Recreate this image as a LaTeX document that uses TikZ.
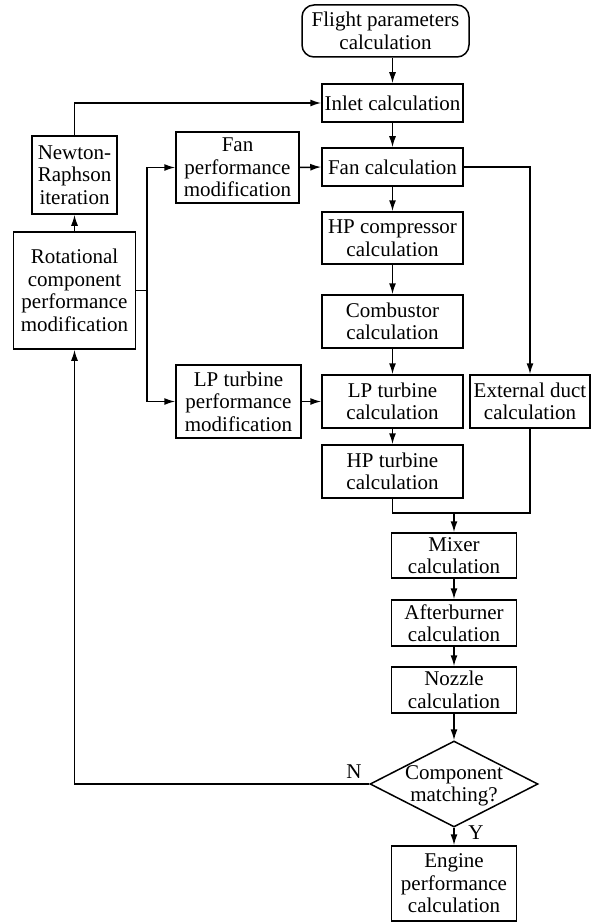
\documentclass[tikz,border=0pt]{standalone}
\usepackage{fontspec}
\setmainfont{Liberation Serif}
\usetikzlibrary{arrows.meta,shapes.geometric}
\begin{document}
\begin{tikzpicture}[x=1pt,y=-1pt,
  every node/.style={font=\fontsize{21}{22.5}\selectfont, align=center, inner sep=0pt},
  box/.style={draw, line width=1.5pt, rectangle},
  conn/.style={line width=1.5pt},
  arr/.style={conn, -{Latex[length=11pt,width=7pt]}},
  lbl/.style={font=\fontsize{21}{22.5}\selectfont}]
\useasboundingbox (0,0) rectangle (598,923);
\fill[white] (0,0) rectangle (598,923);
% main column
\node[box, rounded corners=12pt, minimum width=167, minimum height=52] (flight) at (385.5,31) {Flight parameters\\calculation};
\node[box, minimum width=141, minimum height=38] (inlet) at (392.5,103) {Inlet calculation};
\node[box, minimum width=141, minimum height=38] (fan) at (392.5,167) {Fan calculation};
\node[box, minimum width=141, minimum height=52] (hpc) at (392.5,238) {HP compressor\\calculation};
\node[box, minimum width=141, minimum height=53] (comb) at (392.5,321.5) {Combustor\\calculation};
\node[box, minimum width=141, minimum height=53] (lpt) at (392.5,401.5) {LP turbine\\calculation};
\node[box, minimum width=141, minimum height=53] (hpt) at (392.5,471.5) {HP turbine\\calculation};
\node[box, minimum width=120, minimum height=53] (ext) at (530,401.5) {External duct\\calculation};
% left column
\node[box, minimum width=85, minimum height=78] (newton) at (74.5,175) {Newton-\\Raphson\\iteration};
\node[box, minimum width=122, minimum height=117] (rot) at (74.5,290.5) {Rotational\\component\\performance\\modification};
\node[box, minimum width=123, minimum height=71] (fanmod) at (237.5,167.5) {Fan\\performance\\modification};
\node[box, minimum width=125, minimum height=73] (lpmod) at (238.5,401.5) {LP turbine\\performance\\modification};
% lower column
\node[box, minimum width=125, minimum height=45] (mixer) at (454,555.5) {Mixer\\calculation};
\node[box, minimum width=125, minimum height=46] (after) at (454,623) {Afterburner\\calculation};
\node[box, minimum width=125, minimum height=46] (nozzle) at (454,690) {Nozzle\\calculation};
\node[draw, line width=1.5pt, diamond, minimum width=168, minimum height=86] (dia) at (454,784) {};
\node (diatext) at (454,786) {Component\\matching?};
\node[box, minimum width=125, minimum height=75] (engine) at (454,883.5) {Engine\\performance\\calculation};
% labels
\node[lbl] (nlab) at (354,772) {N};
\node[lbl] (ylab) at (476,833) {Y};
% coordinates
\coordinate (split) at (147,290.5);
\coordinate (join) at (454,513);
% connectors
\draw[arr] (inlet.north |- flight.south) -- (inlet.north);
\draw[arr] (inlet) -- (fan);
\draw[arr] (fan) -- (hpc);
\draw[arr] (hpc) -- (comb);
\draw[arr] (comb) -- (lpt);
\draw[arr] (lpt) -- (hpt);
\draw[arr] (fan.east) -| (ext.north);
\draw[arr] (newton.north) |- (inlet.west);
\draw[arr] (rot.north) -- (newton.south);
\draw[conn] (rot.east) -- (split);
\draw[arr] (split) |- (fanmod.west);
\draw[arr] (split) |- (lpmod.west);
\draw[arr] (fanmod.east) -- (fan.west);
\draw[arr] (lpmod.east) -- (lpt.west);
\draw[conn] (hpt.south) |- (join) -| (ext.south);
\draw[arr] (join) -- (mixer.north);
\draw[arr] (mixer) -- (after);
\draw[arr] (after) -- (nozzle);
\draw[arr] (nozzle) -- (dia.north);
\draw[arr] (dia.south) -- (engine.north);
\draw[arr] (dia.west) -| (rot.south);
\end{tikzpicture}
\end{document}
